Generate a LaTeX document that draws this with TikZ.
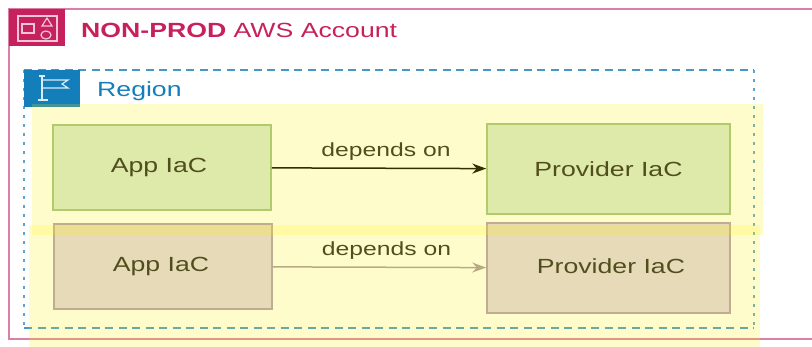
\documentclass[tikz,border=0pt]{standalone}
\usepackage{xcolor}
\usepackage{fontspec}
\setmainfont{Liberation Sans}
\newfontfamily\widefont[FakeStretch=1.3]{Liberation Sans}
\usetikzlibrary{arrows.meta}
\usetikzlibrary{positioning}
\definecolor{acctpink}{HTML}{C7215D}
\definecolor{acctline}{HTML}{DC7FA6}
\definecolor{regionblue}{HTML}{147EBA}
\definecolor{greenfill}{HTML}{D5E8D4}
\definecolor{greenline}{HTML}{9DC088}
\definecolor{purplefill}{HTML}{E1D5E7}
\definecolor{purpleline}{HTML}{AE9CB5}
\definecolor{arrowgrey}{HTML}{A899A8}
\tikzstyle{iac} = [rectangle, font=\widefont\fontsize{20.5}{24}\selectfont, text=black!85, draw=greenline, fill=greenfill, line width=1.5pt, align=center]
\tikzstyle{arrow} = [line width=1.5pt,-{Stealth[length=14pt,width=10pt]}]
\tikzstyle{note} = [font=\widefont\fontsize{19}{22}\selectfont, text=black!85]
\tikzstyle{icon} = [rectangle, minimum width=56pt, minimum height=37pt, inner sep=0pt]
\tikzstyle{overlay} = [fill=yellow, fill opacity=.2, draw=none]

\begin{document}
\begin{tikzpicture}[x=1pt, y=-1pt]
    \useasboundingbox (0,0) rectangle (812,347);

    % account and region frames
    \draw[acctline, line width=2.5pt] (815,9) -- (9,9) -- (9,339) -- (815,339);
    \node(accticon)[icon, fill=acctpink] at (37,27.5) {};
    \node(title)[anchor=west, inner sep=0pt, text=acctpink, font=\widefont\fontsize{20.5}{24}\selectfont] at (81,30.5) {\textbf{NON-PROD} AWS Account};
    \draw[regionblue!80, line width=1.3pt, dash pattern=on 8pt off 5.5pt] (24,70) -- (754,70);
    \draw[regionblue!80, line width=1.3pt, dash pattern=on 8pt off 5.5pt] (24,328) -- (754,328);
    \draw[regionblue!70, line width=2pt, dash pattern=on 3pt off 6pt] (24,70) -- (24,328);
    \draw[regionblue!70, line width=2pt, dash pattern=on 3pt off 6pt] (754,70) -- (754,328);
    \node(regionicon)[icon, fill=regionblue] at (52,88.5) {};
    \node(region)[anchor=west, inner sep=0pt, text=regionblue, font=\widefont\fontsize{20.5}{24}\selectfont] at (97,91.5) {Region};

    % icon glyphs
    \begin{scope}[white!75!acctpink, line width=1.2pt]
        \draw (18,16) rectangle (57,41);
        \draw (22,24) rectangle (34,33);
        \draw (47,18) -- (52,26) -- (42,26) -- cycle;
        \draw (46,35) ellipse (5pt and 4pt);
    \end{scope}
    \begin{scope}[white!85!regionblue, line width=1.2pt]
        \draw (42,76) -- (42,100);
        \draw (38,100) -- (48,100);
        \draw (39,76) -- (45,76);
        \draw (42,80) -- (68,80) -- (62,84) -- (68,88) -- (42,88);
    \end{scope}

    % boxes
    \node(app1)[iac, minimum width=218pt, minimum height=85pt] at (162,167.5) {\raisebox{5pt}{App IaC}\hspace{6pt}};
    \node(provider1)[iac, node distance=446.5pt, right of=app1, yshift=-1.5pt, minimum width=243pt, minimum height=90pt] {Provider IaC};
    \node(app2)[iac, draw=purpleline, fill=purplefill, minimum width=218pt, minimum height=85pt] at (163,266.5) {\raisebox{5pt}{App IaC}\hspace{4pt}};
    \node(provider2)[iac, draw=purpleline, fill=purplefill, node distance=445.5pt, right of=app2, yshift=-1.5pt, minimum width=243pt, minimum height=90pt] {\raisebox{3pt}{\hspace{5pt}Provider IaC}};

    \draw[arrow](app1)--node[note, anchor=south, xshift=7pt, yshift=4pt]{depends on} (provider1);
    \draw[arrow, draw=arrowgrey, fill=arrowgrey](app2)--node[note, anchor=south, xshift=7pt, yshift=4pt]{depends on} (provider2);

    % yellow layers lying over everything
    \fill[overlay] (32,104) rectangle (763,235);
    \fill[overlay] (29,225) rectangle (760,347);
\end{tikzpicture}
\end{document}
